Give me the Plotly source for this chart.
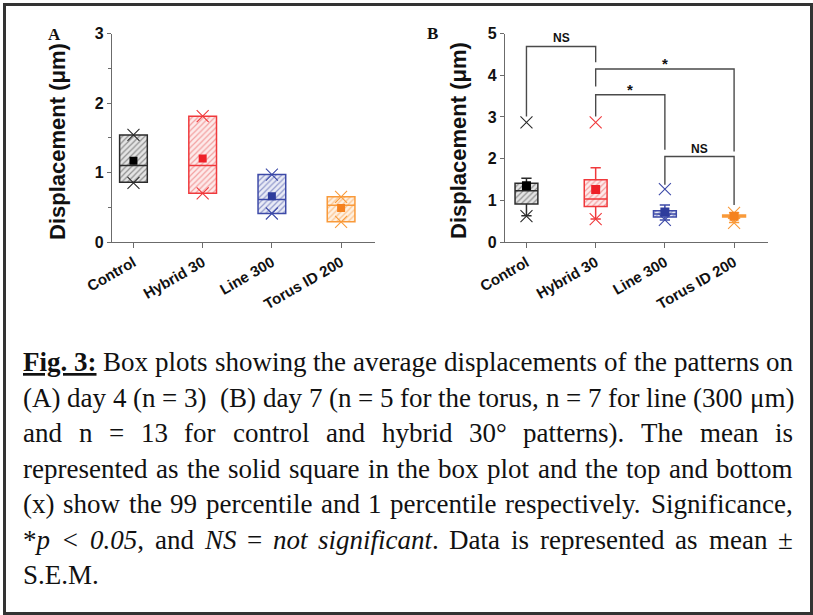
import plotly.graph_objects as go

W, H = 813, 615

# ---------------- data ----------------
categories = ["Control", "Hybrid 30", "Line 300", "Torus ID 200"]
positions = list(range(len(categories)))

line_colors = ["#2b2b2b", "#f0393c", "#3d4aa8", "#f99a3a"]
mean_colors = ["#000000", "#ee2028", "#2e3c9c", "#f5821f"]
hatch_fg = ["#8f8f8f", "#f3a0a0", "#9199cc", "#fbc28c"]
hatch_bg = ["#e4e4e4", "#fdeaea", "#e9ebf6", "#fef1e2"]

# Panel A (day 4)
a_q1 = [0.86, 0.70, 0.41, 0.29]
a_median = [1.10, 1.10, 0.61, 0.53]
a_q3 = [1.54, 1.81, 0.97, 0.65]
a_lower = [0.86, 0.70, 0.41, 0.29]
a_upper = [1.54, 1.81, 0.97, 0.65]
a_mean = [1.17, 1.20, 0.66, 0.49]
a_p99 = [1.54, 1.81, 0.97, 0.65]
a_p1 = [0.85, 0.70, 0.41, 0.29]

# Panel B (day 7)
b_q1 = [0.91, 0.85, 0.60, 0.60]
b_median = [1.23, 1.03, 0.67, 0.63]
b_q3 = [1.41, 1.49, 0.75, 0.65]
b_lower = [0.63, 0.55, 0.53, 0.47]
b_upper = [1.53, 1.78, 0.89, 0.70]
b_mean = [1.35, 1.26, 0.72, 0.62]
b_p99 = [2.87, 2.87, 1.27, 0.70]
b_p1 = [0.62, 0.55, 0.53, 0.46]

# significance brackets (panel B)
br_left = [0, 1, 1, 2]
br_right = [1, 3, 2, 3]
br_top = [4.69, 4.15, 3.53, 2.05]
br_left_end = [3.01, 3.73, 3.01, 1.37]
br_right_end = [4.31, 2.17, 2.21, 0.89]
br_label = ["NS", "*", "*", "NS"]

y_title = "Displacement (μm)"
panel_labels = ["A", "B"]

caption_lines = [
    "<b><u>Fig.\u00a03:</u></b> Box plots showing the average displacements of the patterns on",
    "(A) day 4 (n = 3)  (B) day 7 (n = 5 for the torus, n = 7 for line (300 μm)",
    "and n = 13 for control and hybrid 30° patterns). The mean is",
    "represented as the solid square in the box plot and the top and bottom",
    "(x) show the 99 percentile and 1 percentile respectively. Significance,",
    "*<i>p</i> <i>&lt;</i> <i>0.05</i>, and <i>NS</i> = <i>not</i> <i>significant</i>. Data is represented as mean ±",
    "S.E.M.",
]

# ---------------- helpers ----------------
SANS = "Liberation Sans, Arial, sans-serif"
SERIF = "Liberation Serif, Times New Roman, serif"
AXIS_COL = "#6b6b6b"

fig = go.Figure()


def add_panel(xa, ya, q1, med, q3, lo, up, mean, p99, p1, bw, msize):
    for i in positions:
        fig.add_trace(go.Bar(
            x=[i], y=[q3[i] - q1[i]], base=[q1[i]], width=bw,
            marker=dict(color=hatch_bg[i], line=dict(width=0),
                        pattern=dict(shape="/", fgcolor=hatch_fg[i], bgcolor=hatch_bg[i],
                                     size=4, solidity=0.3, fillmode="replace")),
            xaxis=xa, yaxis=ya, hoverinfo="skip"))
        fig.add_trace(go.Box(
            x=[i], q1=[q1[i]], median=[med[i]], q3=[q3[i]],
            lowerfence=[lo[i]], upperfence=[up[i]], orientation="v",
            width=bw, whiskerwidth=0.45, boxpoints=False,
            line=dict(color=line_colors[i], width=1.5),
            fillcolor="rgba(0,0,0,0)", xaxis=xa, yaxis=ya))
        fig.add_trace(go.Scatter(
            x=[i, i], y=[p99[i], p1[i]], mode="markers",
            marker=dict(symbol="x-thin", size=12,
                        line=dict(color=line_colors[i], width=1.1)),
            xaxis=xa, yaxis=ya))
        fig.add_trace(go.Scatter(
            x=[i], y=[mean[i]], mode="markers",
            marker=dict(symbol="square", size=msize, color=mean_colors[i]),
            xaxis=xa, yaxis=ya))


add_panel("x", "y", a_q1, a_median, a_q3, a_lower, a_upper, a_mean, a_p99, a_p1, 0.40, 8)
add_panel("x2", "y2", b_q1, b_median, b_q3, b_lower, b_upper, b_mean, b_p99, b_p1, 0.33, 9)

for k in range(len(br_label)):
    l, r = br_left[k], br_right[k]
    fig.add_trace(go.Scatter(
        x=[l, l, r, r], y=[br_left_end[k], br_top[k], br_top[k], br_right_end[k]],
        mode="lines", line=dict(color="#4a4a4a", width=1.4),
        xaxis="x2", yaxis="y2"))
    star = br_label[k] == "*"
    fig.add_annotation(
        x=(l + r) / 2, y=br_top[k], xref="x2", yref="y2",
        text=f"<b>{br_label[k]}</b>", showarrow=False, xanchor="center", yanchor="bottom",
        yshift=-5 if star else -1,
        font=dict(family=SANS, size=15 if star else 12, color="#111"))

# ---------------- axes ----------------
ydom = [1 - 242 / H, 1 - 33.5 / H]
xdomA = [112 / W, 375 / W]
xdomB = [505 / W, 768 / W]

xcommon = dict(range=[-0.31, 3.49], tickmode="array", tickvals=positions, ticktext=categories,
               tickangle=-30, showline=True, linecolor=AXIS_COL, linewidth=1.4,
               ticks="outside", ticklen=5, tickwidth=1.3, tickcolor=AXIS_COL,
               tickfont=dict(family=SANS, size=15, color="#111", weight="bold"),
               showgrid=False, zeroline=False, automargin=False)
ycommon = dict(showline=True, linecolor=AXIS_COL, linewidth=1.4,
               ticks="outside", ticklen=4, tickwidth=1.3, tickcolor=AXIS_COL,
               tickfont=dict(family=SANS, size=16, color="#111", weight="bold"),
               showgrid=False, zeroline=False, dtick=1, tick0=0, automargin=False)

fig.update_layout(
    xaxis=dict(domain=xdomA, anchor="y", **xcommon),
    yaxis=dict(domain=ydom, anchor="x", range=[0, 3],
               minor=dict(ticks="outside", ticklen=3, tickwidth=1, tickcolor=AXIS_COL, dtick=0.5),
               **ycommon),
    xaxis2=dict(domain=xdomB, anchor="y2", **xcommon),
    yaxis2=dict(domain=ydom, anchor="x2", range=[0, 5], **ycommon),
)

# axis titles and panel letters
for xc, lab, lx, ly in [(57, panel_labels[0], 54, 34), (458, panel_labels[1], 432, 33)]:
    fig.add_annotation(x=xc / W, y=1 - 141 / H, xref="paper", yref="paper",
                       text=f"<b>{y_title}</b>", textangle=-90, showarrow=False,
                       xanchor="center", yanchor="middle",
                       font=dict(family=SANS, size=22, color="#111"))
    fig.add_annotation(x=lx / W, y=1 - ly / H, xref="paper", yref="paper",
                       text=f"<b>{lab}</b>", showarrow=False,
                       xanchor="center", yanchor="middle",
                       font=dict(family=SERIF, size=17, color="#111"))

# ---------------- caption (justified, Times metrics) ----------------
ROMAN = {' ': 250, '\u00a0': 250, '!': 333, '(': 333, ')': 333, '*': 500, '+': 564, ',': 250,
         '-': 333, '.': 250, '/': 278, ':': 278, ';': 278, '<': 564, '=': 564, '>': 564,
         '±': 564, '°': 400, 'μ': 500,
         'A': 722, 'B': 667, 'C': 667, 'D': 722, 'E': 611, 'F': 556, 'G': 722, 'H': 722,
         'I': 333, 'J': 389, 'K': 722, 'L': 611, 'M': 889, 'N': 722, 'O': 722, 'P': 556,
         'Q': 722, 'R': 667, 'S': 556, 'T': 611, 'U': 722, 'V': 722, 'W': 944, 'X': 722,
         'Y': 722, 'Z': 611,
         'a': 444, 'b': 500, 'c': 444, 'd': 500, 'e': 444, 'f': 333, 'g': 500, 'h': 500,
         'i': 278, 'j': 278, 'k': 500, 'l': 278, 'm': 778, 'n': 500, 'o': 500, 'p': 500,
         'q': 500, 'r': 333, 's': 389, 't': 278, 'u': 500, 'v': 500, 'w': 722, 'x': 500,
         'y': 500, 'z': 444}
BOLD = {'F': 611, 'i': 278, 'g': 500, '.': 250, '\u00a0': 250, '3': 500, ':': 333}
ITAL = {'p': 500, '<': 675, '0': 500, '.': 250, '5': 500, 'N': 667, 'S': 500, 'n': 500,
        'o': 500, 't': 278, 's': 389, 'i': 278, 'g': 500, 'f': 278, 'c': 444, 'a': 500}
ENT = {'&lt;': '<', '&gt;': '>', '&amp;': '&'}


def measure(tok, fs):
    bold = ital = False
    w = 0
    i = 0
    while i < len(tok):
        c = tok[i]
        if c == '<':
            j = tok.index('>', i)
            tag = tok[i + 1:j]
            if tag == 'b':
                bold = True
            elif tag == '/b':
                bold = False
            elif tag == 'i':
                ital = True
            elif tag == '/i':
                ital = False
            i = j + 1
            continue
        if c == '&':
            j = tok.index(';', i)
            c = ENT.get(tok[i:j + 1], '?')
            i = j + 1
        else:
            i += 1
        if bold and c in BOLD:
            w += BOLD[c]
        elif ital and c in ITAL:
            w += ITAL[c]
        elif c.isdigit():
            w += 500
        else:
            w += ROMAN.get(c, 500)
    return w * fs / 1000


FS = 27
LEFT, RIGHT = 22, 792
Y0, DY = 362, 35.5
for li, line in enumerate(caption_lines):
    words = line.split(" ")
    widths = [measure(wd, FS) for wd in words]
    justify = li < len(caption_lines) - 1 and len(words) > 1
    gap = (RIGHT - LEFT - sum(widths)) / (len(words) - 1) if justify else FS * 0.25
    xpos = LEFT
    for wd, ww in zip(words, widths):
        if wd:
            fig.add_annotation(x=xpos / W, y=1 - (Y0 + li * DY) / H, xref="paper", yref="paper",
                               text=wd, showarrow=False, xanchor="left", yanchor="middle",
                               borderpad=0, font=dict(family=SERIF, size=FS, color="#111"))
        xpos += ww + gap

# frame
fig.add_shape(type="rect", xref="paper", yref="paper",
              x0=4.5 / W, x1=811.5 / W, y0=1 - 613.5 / H, y1=1 - 4.5 / H,
              line=dict(color="#333333", width=3))

fig.update_layout(width=W, height=H, margin=dict(l=0, r=0, t=0, b=0, autoexpand=False),
                  paper_bgcolor="white", plot_bgcolor="white", showlegend=False,
                  barmode="overlay", boxmode="overlay")

fig.write_html("out.html")
